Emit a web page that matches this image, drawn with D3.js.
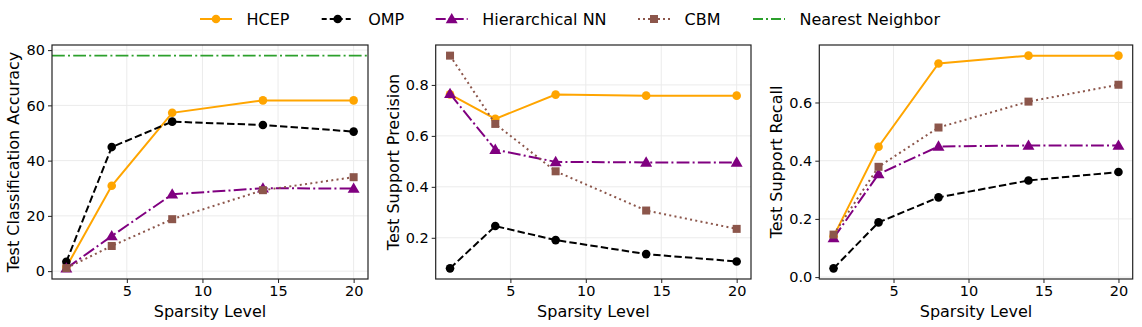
<!DOCTYPE html>
<html><head><meta charset="utf-8">
<script src="https://cdn.jsdelivr.net/npm/d3@7"></script>
<style>body{margin:0;background:#fff}svg{display:block;font-family:"DejaVu Sans",sans-serif}</style>
</head><body><svg id="c" width="1142" height="327"></svg>
<script>
const sparsity = [1, 4, 8, 14, 20];
const seriesNames = ["HCEP", "OMP", "Hierarchical NN", "CBM"];
const accHCEP = [1.5, 30.9, 57.3, 61.8, 61.8];
const accOMP = [3.4, 44.9, 54.1, 52.9, 50.5];
const accHNN = [1.0, 12.7, 27.8, 30.0, 29.9];
const accCBM = [1.1, 9.1, 18.8, 29.3, 34.0];
const accNearest = 78.0;
const precHCEP = [0.763, 0.667, 0.762, 0.758, 0.758];
const precOMP = [0.080, 0.246, 0.191, 0.136, 0.107];
const precHNN = [0.765, 0.546, 0.498, 0.496, 0.496];
const precCBM = [0.915, 0.647, 0.461, 0.307, 0.235];
const recHCEP = [0.140, 0.448, 0.734, 0.761, 0.761];
const recOMP = [0.030, 0.188, 0.274, 0.332, 0.361];
const recHNN = [0.134, 0.354, 0.449, 0.452, 0.452];
const recCBM = [0.146, 0.379, 0.514, 0.603, 0.661];
const xTicks = [5, 10, 15, 20];
const accTicks = [0, 20, 40, 60, 80];
const precTicks = [0.2, 0.4, 0.6, 0.8];
const recTicks = [0.0, 0.2, 0.4, 0.6];

const styles = [
  {color: "#ffa500", dash: null, marker: "circle"},
  {color: "#000000", dash: "7.4,3.2", marker: "circle"},
  {color: "#800080", dash: "12.8,3.2,2,3.2", marker: "triangle"},
  {color: "#8c564b", dash: "2,3.3", marker: "square"}
];
const nnStyle = {color: "#2ca02c", dash: "12.8,3.2,2,3.2"};

const svg = d3.select("#c");

const panels = [
  {left: 52, right: 368, label: "Test Classification Accuracy", data: [accHCEP, accOMP, accHNN, accCBM], ticks: accTicks, fmt: d3.format("d"), extra: accNearest, labelX: 13},
  {left: 435.7, right: 751, label: "Test Support Precision", data: [precHCEP, precOMP, precHNN, precCBM], ticks: precTicks, fmt: d3.format(".1f"), labelX: 393},
  {left: 819.3, right: 1132.7, label: "Test Support Recall", data: [recHCEP, recOMP, recHNN, recCBM], ticks: recTicks, fmt: d3.format(".1f"), labelX: 776}
];
const plotTop = 45, plotBottom = 279;

function marker(g, type, x, y, color) {
  if (type === "circle") {
    g.append("circle").attr("cx", x).attr("cy", y).attr("r", 4.3).attr("fill", color);
  } else if (type === "square") {
    g.append("rect").attr("x", x - 4).attr("y", y - 4).attr("width", 8).attr("height", 8).attr("fill", color);
  } else {
    g.append("path").attr("transform", `translate(${x},${y + 0.8})`).attr("d", d3.symbol(d3.symbolTriangle, 62)()).attr("fill", color);
  }
}

panels.forEach(p => {
  const xd = d3.extent(sparsity); const xm = (xd[1] - xd[0]) * 0.05;
  const x = d3.scaleLinear().domain([xd[0] - xm, xd[1] + xm]).range([p.left, p.right]);
  const all = p.data.flat().concat(p.extra !== undefined ? [p.extra] : []);
  const yd = d3.extent(all); const ym = (yd[1] - yd[0]) * 0.05;
  const y = d3.scaleLinear().domain([yd[0] - ym, yd[1] + ym]).range([plotBottom, plotTop]);
  const g = svg.append("g");
  g.append("g").selectAll("line").data(xTicks).join("line")
    .attr("x1", d => x(d)).attr("x2", d => x(d)).attr("y1", plotTop).attr("y2", plotBottom)
    .attr("stroke", "#ebebeb").attr("stroke-width", 1);
  g.append("g").selectAll("line").data(p.ticks).join("line")
    .attr("y1", d => y(d)).attr("y2", d => y(d)).attr("x1", p.left).attr("x2", p.right)
    .attr("stroke", "#ebebeb").attr("stroke-width", 1);
  const xa = g.append("g").attr("transform", `translate(0,${plotBottom})`)
    .call(d3.axisBottom(x).tickValues(xTicks).tickSize(4).tickPadding(3).tickFormat(d3.format("d")));
  const ya = g.append("g").attr("transform", `translate(${p.left},0)`)
    .call(d3.axisLeft(y).tickValues(p.ticks).tickSize(4).tickPadding(3).tickFormat(p.fmt));
  [xa, ya].forEach(a => {
    a.select(".domain").remove();
    a.selectAll("text").attr("font-size", "14.5px").attr("fill", "#000").attr("font-family", "DejaVu Sans");
    a.selectAll("line").attr("stroke", "#222").attr("stroke-width", 1);
  });
  const clipId = "clip" + Math.round(p.left);
  svg.append("clipPath").attr("id", clipId).append("rect")
    .attr("x", p.left).attr("y", plotTop).attr("width", p.right - p.left).attr("height", plotBottom - plotTop);
  const plot = g.append("g").attr("clip-path", `url(#${clipId})`);
  if (p.extra !== undefined) {
    plot.append("line").attr("x1", p.left).attr("x2", p.right).attr("y1", y(p.extra)).attr("y2", y(p.extra))
      .attr("stroke", nnStyle.color).attr("stroke-width", 1.8).attr("stroke-dasharray", nnStyle.dash);
  }
  p.data.forEach((vals, i) => {
    const s = styles[i];
    const line = d3.line().x((d, j) => x(sparsity[j])).y(d => y(d));
    const path = plot.append("path").datum(vals).attr("d", line).attr("fill", "none")
      .attr("stroke", s.color).attr("stroke-width", 2);
    if (s.dash) path.attr("stroke-dasharray", s.dash);
    vals.forEach((v, j) => marker(plot, s.marker, x(sparsity[j]), y(v), s.color));
  });
  g.append("rect").attr("x", p.left).attr("y", plotTop).attr("width", p.right - p.left).attr("height", plotBottom - plotTop)
    .attr("fill", "none").attr("stroke", "#222").attr("stroke-width", 1.2);
  g.append("text").attr("x", (p.left + p.right) / 2).attr("y", 317).attr("text-anchor", "middle")
    .attr("font-size", "16px").text("Sparsity Level");
  g.append("text").attr("transform", `translate(${p.labelX + 6},${(plotTop + plotBottom) / 2}) rotate(-90)`)
    .attr("text-anchor", "middle").attr("font-size", "16px").text(p.label);
});

const legendItems = [
  {name: seriesNames[0], s: styles[0], x: 200},
  {name: seriesNames[1], s: styles[1], x: 321.7},
  {name: seriesNames[2], s: styles[2], x: 435.7},
  {name: seriesNames[3], s: styles[3], x: 638},
  {name: "Nearest Neighbor", s: nnStyle, x: 753}
];
const lg = svg.append("g");
legendItems.forEach(it => {
  const ly = 19;
  const l = lg.append("line").attr("x1", it.x).attr("x2", it.x + 32).attr("y1", ly).attr("y2", ly)
    .attr("stroke", it.s.color).attr("stroke-width", 2);
  if (it.s.dash) l.attr("stroke-dasharray", it.name === "OMP" ? "5,3" : (it.name === "CBM" ? "2,3" : "10,3,2,3"));
  if (it.s.marker) marker(lg, it.s.marker, it.x + 16, ly, it.s.color);
  lg.append("text").attr("x", it.x + 46.5).attr("y", ly + 5.8).attr("font-size", "16px").text(it.name);
});
</script></body></html>
